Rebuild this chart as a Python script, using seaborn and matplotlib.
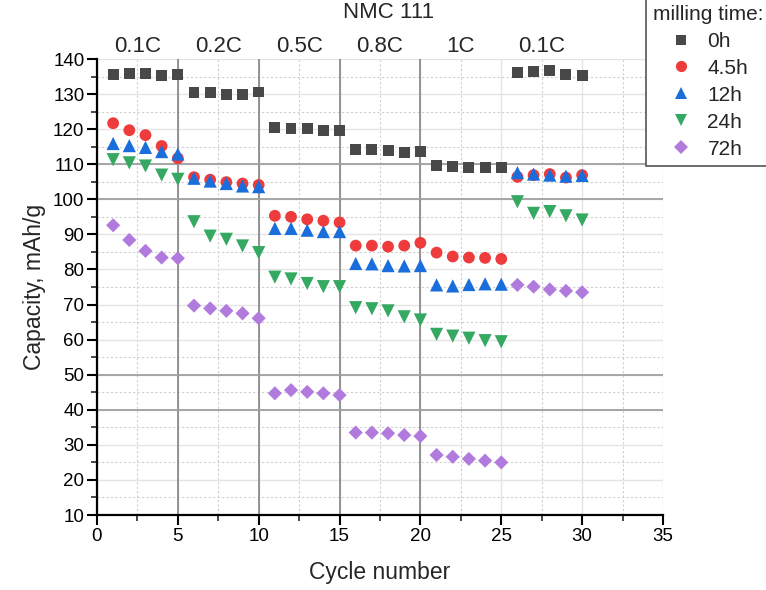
import matplotlib
matplotlib.use("Agg")
import matplotlib.pyplot as plt
from matplotlib.lines import Line2D
from matplotlib.ticker import MultipleLocator
import numpy as np
import pandas as pd
import seaborn as sns

# ---------------- data ----------------
cycles = list(range(1, 31))
cap_0h = [135.6, 135.8, 135.8, 135.3, 135.7,
          130.4, 130.5, 130.0, 129.8, 130.6,
          120.4, 120.2, 120.1, 119.7, 119.6,
          114.2, 114.3, 113.9, 113.4, 113.6,
          109.6, 109.3, 109.2, 109.2, 109.1,
          136.1, 136.5, 136.8, 135.7, 135.4]
cap_4_5h = [121.7, 119.7, 118.3, 115.2, 111.7,
            106.3, 105.6, 104.9, 104.5, 104.1,
            95.3, 95.0, 94.3, 93.9, 93.4,
            86.8, 86.8, 86.5, 86.8, 87.6,
            84.8, 83.7, 83.4, 83.3, 83.0,
            106.4, 106.9, 107.2, 106.2, 106.9]
cap_12h = [115.9, 115.3, 114.8, 113.6, 112.9,
           106.0, 105.2, 104.5, 103.8, 103.6,
           91.7, 91.7, 91.2, 90.8, 90.8,
           81.7, 81.6, 81.1, 81.0, 81.1,
           75.6, 75.3, 75.7, 75.9, 75.8,
           107.6, 107.2, 106.9, 106.6, 106.8]
cap_24h = [111.3, 110.4, 109.5, 106.9, 105.7,
           93.6, 89.5, 88.6, 86.7, 84.8,
           77.8, 77.3, 76.0, 75.1, 75.1,
           69.1, 68.8, 68.2, 66.5, 65.6,
           61.5, 61.0, 60.4, 59.7, 59.4,
           99.3, 96.0, 96.5, 95.3, 94.1]
cap_72h = [92.6, 88.4, 85.3, 83.4, 83.2,
           69.7, 68.9, 68.2, 67.5, 66.1,
           44.7, 45.6, 45.1, 44.7, 44.2,
           33.5, 33.5, 33.3, 32.8, 32.5,
           27.1, 26.6, 26.0, 25.5, 25.0,
           75.6, 75.1, 74.3, 73.9, 73.5]

series_names = ["0h", "4.5h", "12h", "24h", "72h"]
series_values = [cap_0h, cap_4_5h, cap_12h, cap_24h, cap_72h]
rate_labels = ["0.1C", "0.2C", "0.5C", "0.8C", "1C", "0.1C"]
rate_centers = [2.5, 7.5, 12.5, 17.5, 22.5, 27.5]

# ---------------- styles ----------------
palette = {"0h": "#484848", "4.5h": "#EE3B3B", "12h": "#1A6EDB",
           "24h": "#35A862", "72h": "#B17BDE"}
markers = {"0h": "s", "4.5h": "o", "12h": "^", "24h": "v", "72h": "D"}
sizes = {"0h": 62, "4.5h": 72, "12h": 90, "24h": 90, "72h": 52}

df = pd.concat(
    [pd.DataFrame({"cycle": cycles, "capacity": v, "series": n})
     for n, v in zip(series_names, series_values)],
    ignore_index=True)

sns.set_style("ticks")
plt.rcParams["font.family"] = ["Liberation Sans", "DejaVu Sans"]

fig = plt.figure(figsize=(7.66, 5.90), dpi=100)
ax = fig.add_axes([0.1266, 0.1271, 0.7389, 0.7729])

# grid
ax.set_axisbelow(True)
ax.xaxis.set_major_locator(MultipleLocator(5))
ax.xaxis.set_minor_locator(MultipleLocator(2.5))
ax.yaxis.set_major_locator(MultipleLocator(10))
ax.yaxis.set_minor_locator(MultipleLocator(5))
ax.grid(which="major", color="#e4e4e4", linewidth=1.0, linestyle="-")
ax.grid(which="minor", color="#cfcfcf", linewidth=0.8, linestyle=(0, (2, 2)))
for xv in [5, 10, 15, 20]:
    ax.axvline(xv, color="#7a7a7a", linewidth=1.1, zorder=0.6)
for yv in [40, 50, 100, 110]:
    ax.axhline(yv, color="#a0a0a0", linewidth=1.3, zorder=0.6)

sns.scatterplot(data=df, x="cycle", y="capacity", hue="series", style="series",
                size="series", sizes=sizes, markers=markers, palette=palette,
                hue_order=series_names, style_order=series_names,
                size_order=series_names,
                linewidth=0, edgecolor="none", legend=False, ax=ax, zorder=3)

ax.set_xlim(0, 35)
ax.set_ylim(10, 140)
for s in ["top", "right"]:
    ax.spines[s].set_visible(False)
for s in ["left", "bottom"]:
    ax.spines[s].set_linewidth(1.6)
    ax.spines[s].set_color("black")
ax.tick_params(which="major", direction="out", length=7, width=1.5,
               labelsize=13.5, pad=2, colors="black")
ax.tick_params(which="minor", direction="out", length=4, width=1.2)

ax.set_xlabel("Cycle number", fontsize=16.5, labelpad=12)
ax.set_ylabel("Capacity, mAh/g", fontsize=16.5, labelpad=5)

# rate labels
for xc, lab in zip(rate_centers, rate_labels):
    ax.text(xc, 1.028, lab, transform=ax.get_xaxis_transform(),
            ha="center", va="center", fontsize=16)

fig.text(0.507, 0.979, "NMC 111", ha="center", va="center", fontsize=16)

# legend
handles = [Line2D([], [], linestyle="none", marker=markers[n],
                  markersize=np.sqrt(sizes[n]) * 0.95,
                  markerfacecolor=palette[n], markeredgewidth=0)
           for n in series_names]
leg = fig.legend(handles, series_names, title="milling time:",
                 loc="upper right", bbox_to_anchor=(1.006, 1.004),
                 frameon=True, fancybox=False, fontsize=15, title_fontsize=15,
                 borderaxespad=0, borderpad=0.35, labelspacing=0.38,
                 handletextpad=0.6, handlelength=1.3)
leg.get_frame().set_edgecolor("#555555")
leg.get_frame().set_linewidth(1.2)
leg.get_frame().set_alpha(1)

fig.savefig("out.png", dpi=100)
